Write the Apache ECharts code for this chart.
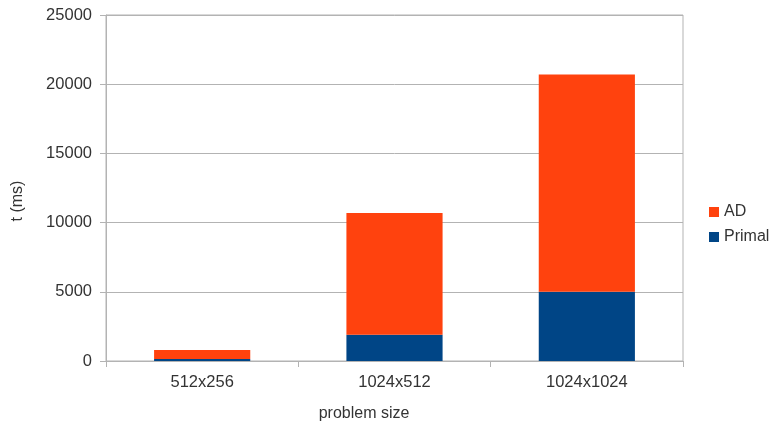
<!DOCTYPE html>
<html>
<head>
<meta charset="utf-8">
<script src="https://cdn.jsdelivr.net/npm/echarts@6/dist/echarts.min.js"></script>
<style>
  html, body { margin: 0; padding: 0; background: #fff; }
  #chart { width: 770px; height: 424px; }
</style>
</head>
<body>
<div id="chart"></div>
<script>
// data
const categories = ['512x256', '1024x512', '1024x1024'];
const primal = [150, 1900, 5000];
const ad = [650, 8800, 15700];   // stacked on top of primal
const yTicks = { min: 0, max: 25000, interval: 5000 };

const chart = echarts.init(document.getElementById('chart'));
const txt = { fontFamily: 'Liberation Sans', fontSize: 16, color: '#333' };

chart.setOption({
    animation: false,
    grid: {
        left: 106, right: 87, top: 15, bottom: 63,
        show: true, borderColor: '#b3b3b3', borderWidth: 1
    },
    legend: {
        orient: 'vertical',
        left: 704, top: 199,
        itemWidth: 10, itemHeight: 10, itemGap: 9,
        icon: 'rect',
        data: ['AD', 'Primal'],
        textStyle: { ...txt }
    },
    // axis titles sit off-centre in the source, so place them by hand
    graphic: [{
        type: 'text',
        x: 18, y: 201,
        rotation: Math.PI / 2,
        style: { text: 't (ms)', ...txt, align: 'center', verticalAlign: 'middle', fill: '#333' }
    }, {
        type: 'text',
        x: 364, y: 414,
        style: { text: 'problem size', ...txt, align: 'center', verticalAlign: 'middle', fill: '#333' }
    }],
    xAxis: {
        type: 'category',
        data: categories,
        axisLine: { lineStyle: { color: '#b3b3b3' } },
        axisTick: { show: true, length: 6, lineStyle: { color: '#b3b3b3' } },
        axisLabel: { ...txt, fontSize: 16.5, margin: 13 }
    },
    yAxis: {
        type: 'value',
        min: yTicks.min, max: yTicks.max, interval: yTicks.interval,
        axisLine: { show: true, lineStyle: { color: '#b3b3b3' } },
        axisTick: { show: true, length: 6, lineStyle: { color: '#b3b3b3' } },
        axisLabel: { ...txt, fontSize: 16.5, margin: 14, formatter: v => String(v) },
        splitLine: { lineStyle: { color: '#b3b3b3' } }
    },
    series: [
        {
            name: 'Primal', type: 'bar', stack: 'total',
            data: primal, barWidth: '50%',
            itemStyle: { color: '#004586' }
        },
        {
            name: 'AD', type: 'bar', stack: 'total',
            data: ad, barWidth: '50%',
            itemStyle: { color: '#ff420e' }
        }
    ]
});
</script>
</body>
</html>
